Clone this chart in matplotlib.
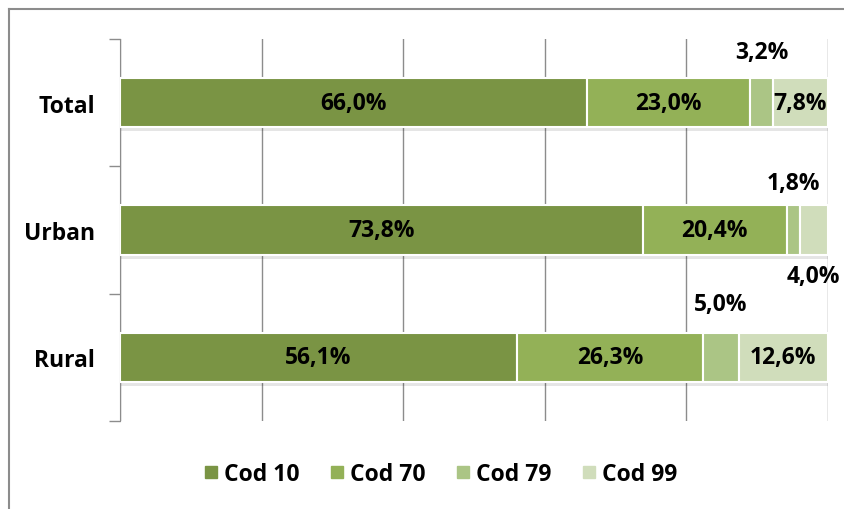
import matplotlib.pyplot as plt
import numpy as np
from matplotlib.lines import Line2D

plt.rcParams['font.family'] = ['Open Sans', 'DejaVu Sans']
plt.rcParams['font.weight'] = 'bold'

categorias = ['Total', 'Urban', 'Rural']
series = ['Cod 10', 'Cod 70', 'Cod 79', 'Cod 99']
cod10 = [66.0, 73.8, 56.1]
cod70 = [23.0, 20.4, 26.3]
cod79 = [3.2, 1.8, 5.0]
cod99 = [7.8, 4.0, 12.6]

cores = ['#7A9444', '#93B157', '#ABC585', '#D0DDBB']

# rotulos pequenos: (serie, categoria, deslocamento vertical)
fora = [(2, 0, -0.40), (2, 1, -0.37), (3, 1, 0.36), (2, 2, -0.42)]

fig = plt.figure(figsize=(8.45, 5.1), dpi=100)
ax = fig.add_axes([120 / 845, 1 - 422 / 510, 708 / 845, 382 / 510])

y = np.arange(len(categorias))
altura = 0.39
valores = [cod10, cod70, cod79, cod99]
tam = 16.5

# sombra
total = np.sum(valores, axis=0)
ax.barh(y + 0.03, total, height=altura, color='#000000', alpha=0.10, zorder=2)

esq = np.zeros(len(categorias))
for i, vals in enumerate(valores):
    vals = np.array(vals)
    ax.barh(y, vals, left=esq, height=altura, color=cores[i],
            edgecolor='white', linewidth=1.5, zorder=3)
    for j, v in enumerate(vals):
        txt = f'{v:.1f}%'.replace('.', ',')
        cx = esq[j] + v / 2
        desl = [d for (s, c, d) in fora if s == i and c == j]
        dy = desl[0] if desl else 0
        ax.text(cx, j + dy, txt, ha='center', va='center',
                fontsize=tam, fontweight='bold', color='black', zorder=4)
    esq = esq + vals

ax.set_xlim(0, 100)
ax.set_ylim(2.5, -0.5)
ax.set_xticks(np.arange(0, 101, 20))
ax.set_xticklabels([])
ax.tick_params(axis='x', length=0)
ax.grid(axis='x', color='#8C8C8C', linewidth=1.0, zorder=0)
ax.set_axisbelow(True)

ax.set_yticks(y)
ax.set_yticklabels(categorias, fontsize=tam, fontweight='bold')
ax.tick_params(axis='y', which='major', length=0, pad=18)
ax.set_yticks([-0.5, 0.5, 1.5, 2.5], minor=True)
ax.tick_params(axis='y', which='minor', length=8, color='#8C8C8C', width=1.0)

for lado in ['top', 'right', 'bottom']:
    ax.spines[lado].set_visible(False)
ax.spines['left'].set_color('#8C8C8C')

handles = [Line2D([], [], marker='s', linestyle='none', markersize=9,
                  markerfacecolor=c, markeredgecolor=c) for c in cores]
fig.legend(handles, series, loc='center', bbox_to_anchor=(0.518, 1 - 475 / 510),
           ncol=4, frameon=False, handletextpad=0.0, handlelength=1.1,
           columnspacing=1.1, prop={'weight': 'bold', 'size': tam})

# moldura
fig.add_artist(Line2D([9 / 845, 9 / 845], [0, 1 - 10 / 510], color='#8C8C8C', linewidth=1.5))
fig.add_artist(Line2D([9 / 845, 1], [1 - 10 / 510, 1 - 10 / 510], color='#8C8C8C', linewidth=1.5))

fig.savefig('out.png', dpi=100)
